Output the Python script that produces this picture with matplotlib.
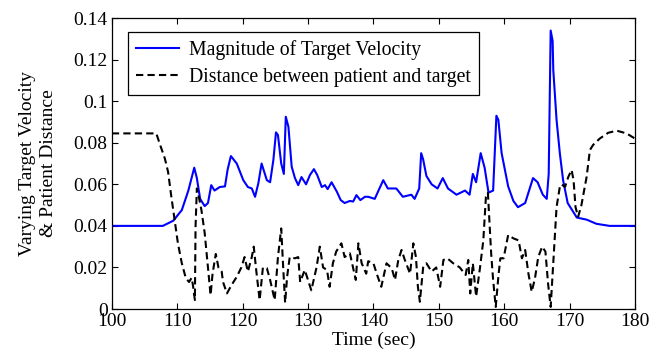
import numpy as np
import matplotlib.pyplot as plt

# Magnitude of target velocity
t_vel = [100, 107.8, 109.4, 110.7, 111.7, 112.6, 113.0, 113.5, 114.2, 114.7, 115.2, 115.7,
         116.5, 117.3, 117.7, 118.2, 119.1, 120.1, 120.8, 121.4, 121.9, 122.4, 122.9, 123.7,
         124.2, 124.7, 125.1, 125.4, 125.9, 126.3, 126.6, 127.0, 127.5, 128.0, 128.5, 129.0,
         129.7, 130.3, 130.9, 131.4, 132.1, 132.6, 133.0, 133.6, 134.4, 135.0, 135.6, 136.4,
         136.9, 137.4, 138.0, 138.7, 139.2, 140.2, 141.5, 142.2, 143.5, 144.5, 145.8, 146.3,
         147.0, 147.3, 147.6, 148.1, 148.9, 149.8, 150.6, 151.4, 152.7, 154.0, 154.7, 155.2,
         155.7, 156.4, 157.0, 157.6, 158.3, 158.8, 159.1, 159.6, 160.6, 161.4, 162.1, 163.2,
         163.8, 164.4, 165.1, 165.9, 166.5, 166.8, 167.1, 167.4, 167.5, 168.0, 168.5, 169.0,
         169.7, 171.1, 172.6, 174.1, 176.1, 180]
velocity = [0.040, 0.040, 0.0425, 0.0476, 0.057, 0.068, 0.063, 0.053, 0.0495, 0.051, 0.0596, 0.057,
            0.0587, 0.059, 0.067, 0.0736, 0.070, 0.062, 0.0587, 0.058, 0.054, 0.0605, 0.070, 0.062,
            0.061, 0.0717, 0.085, 0.0837, 0.070, 0.065, 0.0925, 0.0877, 0.0685, 0.063, 0.0596, 0.0635,
            0.060, 0.0645, 0.0673, 0.0645, 0.0587, 0.0596, 0.0577, 0.061, 0.0565, 0.0524, 0.051, 0.052,
            0.0517, 0.0548, 0.0524, 0.054, 0.054, 0.053, 0.062, 0.058, 0.058, 0.054, 0.055, 0.053,
            0.058, 0.075, 0.072, 0.064, 0.060, 0.058, 0.063, 0.058, 0.055, 0.057, 0.055, 0.065,
            0.061, 0.075, 0.068, 0.056, 0.057, 0.093, 0.091, 0.075, 0.059, 0.052, 0.049, 0.051,
            0.057, 0.063, 0.061, 0.055, 0.053, 0.065, 0.134, 0.129, 0.115, 0.091, 0.075, 0.062,
            0.051, 0.044, 0.043, 0.041, 0.040, 0.040]

# Distance between patient and target
t_dist = [100, 106.8, 107.3, 108.1, 108.6, 109.1, 109.6, 110.1, 110.7, 111.3, 111.8, 112.2,
          112.4, 112.7, 112.8, 113.0, 113.3, 113.7, 114.2, 114.7, 115.1, 115.4, 115.9, 116.3,
          116.8, 117.0, 117.6, 118.3, 119.1, 119.8, 120.3, 120.8, 121.4, 121.7, 122.1, 122.6,
          123.1, 123.7, 124.2, 124.9, 125.4, 125.9, 126.2, 126.5, 126.8, 127.2, 128.0, 128.5,
          128.8, 129.5, 130.5, 131.3, 131.8, 132.3, 132.9, 133.3, 133.8, 134.3, 135.1, 135.6,
          136.4, 136.9, 137.3, 137.7, 138.2, 138.9, 139.2, 140.0, 140.5, 141.2, 142.0, 142.8,
          143.3, 143.8, 144.3, 144.8, 145.6, 146.1, 146.5, 146.8, 147.1, 147.6, 148.1, 148.9,
          149.6, 150.2, 150.7, 151.3, 152.2, 153.2, 154.1, 154.5, 154.8, 155.2, 155.7, 156.3,
          156.8, 157.2, 157.5, 158.0, 158.3, 158.7, 159.1, 159.4, 159.9, 160.6, 161.4, 162.2,
          162.7, 163.2, 163.7, 164.2, 164.7, 165.2, 165.8, 166.3, 166.7, 167.1, 167.5, 168.0,
          168.5, 168.7, 169.3, 169.8, 170.3, 170.6, 170.9, 171.3, 171.8, 172.6, 173.1, 173.6,
          174.6, 175.9, 177.2, 178.7, 180]
distance = [0.0845, 0.0845, 0.0797, 0.0725, 0.066, 0.054, 0.043, 0.0317, 0.022, 0.015, 0.013, 0.015,
            0.0115, 0.0043, 0.0396, 0.058, 0.054, 0.0476, 0.0365, 0.020, 0.0067, 0.017, 0.0265, 0.020,
            0.018, 0.013, 0.0075, 0.0115, 0.0155, 0.020, 0.025, 0.018, 0.025, 0.030, 0.018, 0.0043,
            0.020, 0.0197, 0.014, 0.0043, 0.025, 0.0388, 0.020, 0.003, 0.0155, 0.025, 0.0244, 0.025,
            0.013, 0.0188, 0.009, 0.020, 0.030, 0.020, 0.0188, 0.0107, 0.022, 0.0276, 0.0316, 0.025,
            0.0268, 0.0196, 0.014, 0.0316, 0.022, 0.017, 0.023, 0.022, 0.017, 0.0107, 0.022, 0.0196,
            0.014, 0.0236, 0.0284, 0.0236, 0.017, 0.0316, 0.025, 0.0107, 0.0035, 0.020, 0.022, 0.018,
            0.020, 0.0107, 0.0236, 0.0244, 0.022, 0.020, 0.0164, 0.0236, 0.0075, 0.022, 0.006, 0.020,
            0.033, 0.054, 0.056, 0.0268, 0.014, 0.001, 0.0155, 0.0244, 0.0244, 0.0356, 0.034, 0.033,
            0.0244, 0.0284, 0.017, 0.0083, 0.0148, 0.025, 0.030, 0.0276, 0.0123, 0.001, 0.022, 0.049,
            0.0588, 0.060, 0.0588, 0.0636, 0.0669, 0.062, 0.049, 0.0444, 0.050, 0.0636, 0.0765, 0.079,
            0.082, 0.0848, 0.0858, 0.0845, 0.082]

plt.rcParams['font.family'] = ['Liberation Serif', 'DejaVu Serif']
plt.rcParams['font.size'] = 14

fig = plt.figure(figsize=(6.54, 3.61), dpi=100)
ax = fig.add_axes([0.171, 0.144, 0.800, 0.806])

ax.plot(t_vel, velocity, color='#0000ff', lw=1.5, label='Magnitude of Target Velocity')
ax.plot(t_dist, distance, color='black', lw=1.5, linestyle=(0, (3.5, 2)),
        label='Distance between patient and target')

ax.set_xlim(100, 180)
ax.set_ylim(0, 0.14)
ax.set_xticks(np.arange(100, 181, 10))
ax.set_yticks(np.arange(0, 0.141, 0.02))
ax.set_yticklabels(['0', '0.02', '0.04', '0.06', '0.08', '0.1', '0.12', '0.14'])
ax.tick_params(direction='in', top=True, right=True, length=4, width=0.8, pad=3)
for s in ax.spines.values():
    s.set_linewidth(0.9)

ax.set_xlabel('Time (sec)', labelpad=1)
ax.set_ylabel('Varying Target Velocity\n& Patient Distance', linespacing=1.3, labelpad=12)

leg = ax.legend(loc='upper left', bbox_to_anchor=(0.031, 0.952), borderaxespad=0,
                fancybox=False, framealpha=1, edgecolor='black', handlelength=2.2,
                borderpad=0.4, labelspacing=0.4, handletextpad=0.5, fontsize=14.2)
leg.get_frame().set_linewidth(0.9)

fig.savefig('out.png', dpi=100)
